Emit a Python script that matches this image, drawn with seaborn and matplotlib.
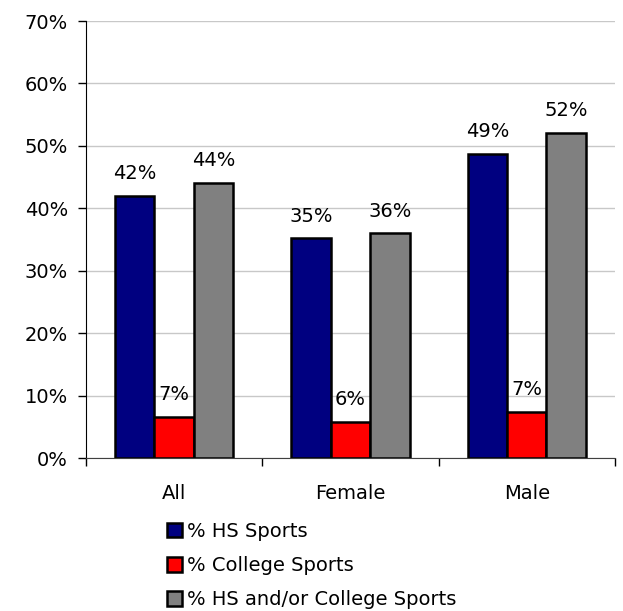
import matplotlib
matplotlib.use("Agg")
import matplotlib.pyplot as plt
import seaborn as sns
import pandas as pd
from matplotlib.ticker import PercentFormatter, FixedLocator

groups = ["All", "Female", "Male"]
series = ["% HS Sports", "% College Sports", "% HS and/or College Sports"]
hs_sports = [42.0, 35.2, 48.7]
college_sports = [6.6, 5.8, 7.4]
hs_or_college = [44.1, 36.0, 52.1]
colors = ["#000080", "#ff0000", "#808080"]

rows = []
for name, vals in zip(series, [hs_sports, college_sports, hs_or_college]):
    for g, v in zip(groups, vals):
        rows.append({"group": g, "series": name, "value": v})
df = pd.DataFrame(rows)

sns.set_style("white")
plt.rcParams["font.family"] = ["DejaVu Sans"]
plt.rcParams["text.color"] = "black"
plt.rcParams["xtick.color"] = "black"
plt.rcParams["ytick.color"] = "black"

fs = 14

fig = plt.figure(figsize=(6.23, 6.11), dpi=100)
ax = fig.add_axes([0.138, 0.2504, 0.849, 0.7152])

sns.barplot(data=df, x="group", y="value", hue="series", palette=colors,
            edgecolor="black", linewidth=1.8, width=0.67, ax=ax, saturation=1)

for c in ax.containers:
    ax.bar_label(c, labels=[f"{round(b.get_height()):d}%" for b in c],
                 padding=9, fontsize=fs, color="black")

ax.set_ylim(0, 70)
ax.set_xlim(-0.5, 2.5)
ax.yaxis.set_major_formatter(PercentFormatter(decimals=0))
ax.set_yticks(range(0, 71, 10))
ax.grid(axis="y", color="#c8c8c8", linewidth=1)
ax.set_axisbelow(True)
ax.set_xlabel("")
ax.set_ylabel("")
ax.tick_params(axis="y", labelsize=fs, length=6, width=1, color="black",
               labelcolor="black", direction="out", left=True, pad=7)
ax.tick_params(axis="x", labelsize=fs, length=0, pad=19, labelcolor="black")
ax.xaxis.set_minor_locator(FixedLocator([-0.5, 0.5, 1.5, 2.5]))
ax.tick_params(axis="x", which="minor", length=6, width=1, color="black",
               direction="out", bottom=True)
for s in ["top", "right"]:
    ax.spines[s].set_visible(False)
ax.spines["left"].set_color("black")
ax.spines["bottom"].set_color("#404040")

leg = ax.legend(loc="upper left", bbox_to_anchor=(167 / 623, 1 - 522 / 611),
                bbox_transform=fig.transFigure, frameon=False, fontsize=fs,
                handlelength=0.75, handleheight=0.75, handletextpad=0.3,
                labelspacing=0.78, borderaxespad=0, borderpad=0)
for t in leg.get_texts():
    t.set_color("black")

fig.savefig("out.png", dpi=100)
